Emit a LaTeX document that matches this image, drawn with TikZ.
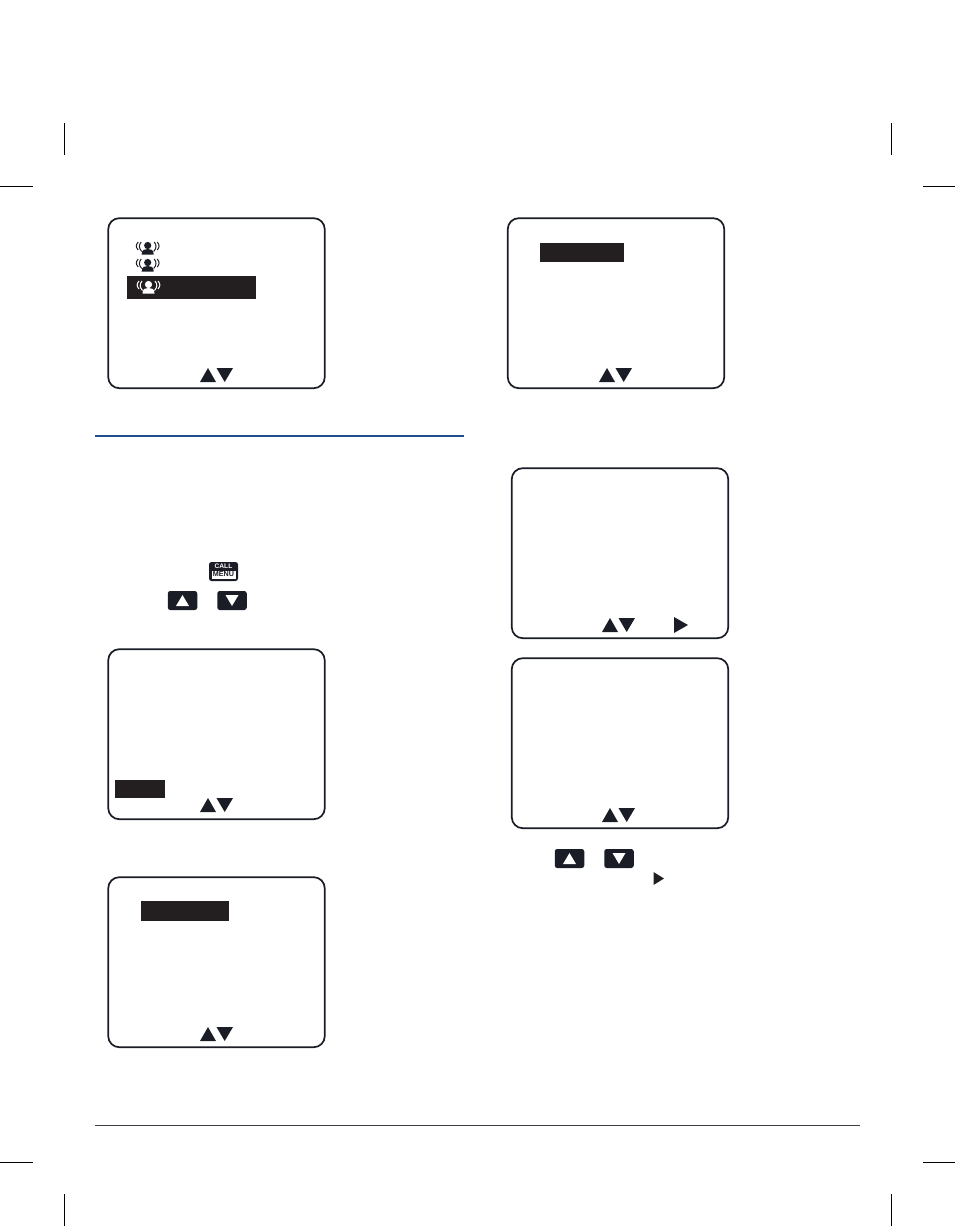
\documentclass[tikz,border=0pt]{standalone}
\usepackage{fontspec}
\setmainfont{Liberation Sans}
\definecolor{inkdark}{HTML}{1A1C26}
\definecolor{barblack}{HTML}{231F20}
\definecolor{ruleblue}{HTML}{1F4E8C}
\tikzset{
  screen/.style={draw=inkdark,line width=1.7pt,rounded corners=11pt,inner sep=0pt,
    minimum width=216.5pt,minimum height=170pt},
  hilite/.style={fill=barblack,inner sep=0pt,anchor=north west},
  keybtn/.style={fill=inkdark,rounded corners=2.5pt,inner sep=0pt,minimum width=29.5pt,minimum height=19pt},
  cropmark/.style={black,line width=.8pt},
  pics/arrowpair/.style={code={
    \fill[inkdark] (-16.5,7) -- (-.5,7) -- (-8.5,-7) -- cycle;
    \fill[inkdark] (0,-7) -- (16.5,-7) -- (8.2,7) -- cycle;
  }},
  pics/keyup/.style={code={\fill[white] (-6.5,5.5) -- (6.5,5.5) -- (0,-5.5) -- cycle;}},
  pics/keydown/.style={code={\fill[white] (-6.5,-5.5) -- (6.5,-5.5) -- (0,5.5) -- cycle;}},
  pics/caller/.style={code={
    \fill[#1] (0,-2.5) circle (3.6);
    \fill[#1] (-6,6.5) .. controls (-6,1.5) and (-3,1) .. (0,1) .. controls (3,1) and (6,1.5) .. (6,6.5) -- cycle;
    \foreach \s in {-1,1} {
      \draw[#1,line width=1pt] (\s*6.5,-6) .. controls (\s*9,-3) and (\s*9,0) .. (\s*6,3.5);
      \draw[#1,line width=1pt] (\s*9.5,-6) .. controls (\s*12,-3) and (\s*12,-1) .. (\s*9.5,2);
    }
  }},
}
\begin{document}
\begin{tikzpicture}[x=1pt,y=-1pt]
  \useasboundingbox (0,0) rectangle (955,1226);
  % crop marks
  \foreach \x in {64,891} {
    \draw[cropmark] (\x,123) -- (\x,155);
    \draw[cropmark] (\x,1194) -- (\x,1226);
  }
  \foreach \y in {186,1162} {
    \draw[cropmark] (0,\y) -- (33,\y);
    \draw[cropmark] (923,\y) -- (955,\y);
  }
  % rules
  \draw[ruleblue,line width=1.5pt] (95,436) -- (464,436);
  \draw[inkdark!85,line width=.7pt] (95,1125.5) -- (860,1125.5);
  % screens
  \foreach \name/\x/\y in {callscreen/216.5/303.2,ringscreen/616/303.2,menuscreen/216.5/734.2,
    listscreen/216.5/962.2,setscreen/620/553.2,optscreen/620/743.2} {
    \node[screen] (\name) at (\x,\y) {};
  }
  % highlighted rows
  \node[hilite,minimum width=129pt,minimum height=23pt] (callbar) at (127,276) {};
  \node[hilite,minimum width=84pt,minimum height=19pt] (ringbar) at (540,243) {};
  \node[hilite,minimum width=50pt,minimum height=18pt] (menubar) at (115,780) {};
  \node[hilite,minimum width=88pt,minimum height=20pt] (listbar) at (141,901) {};
  % caller icons
  \pic at (147.7,248) {caller=inkdark};
  \pic at (147.7,265) {caller=inkdark};
  \pic at (148.5,287) {caller=white};
  % scroll arrows
  \foreach \x/\y in {216.5/375,615.5/375,216.5/805,216.5/1034,618.5/625,618.5/815} {
    \pic at (\x,\y) {arrowpair};
  }
  \fill[inkdark] (674,617) -- (688,625) -- (674,633) -- cycle;
  \fill[barblack] (653.5,872) -- (664,878.5) -- (653.5,885) -- cycle;
  % keys
  \node[keybtn,minimum width=29pt] (callkey) at (223.5,571.5) {};
  \node[text=white,font=\fontsize{6.6}{7}\selectfont\bfseries,inner sep=0pt] (calltxt) at (223.5,566.5) {CALL};
  \node[fill=white,text=inkdark,font=\fontsize{7.2}{7}\selectfont\bfseries,inner sep=0pt,
    minimum width=24pt,minimum height=8pt] (menutxt) at (223.5,574.5) {MENU};
  \foreach \name/\x/\y/\kind in {upkeya/182.5/600.5/keyup,downkeya/232/600.5/keydown,
    upkeyb/569.5/858.5/keyup,downkeyb/619/858.5/keydown} {
    \node[keybtn] (\name) at (\x,\y) {};
    \pic at (\x,\y) {\kind};
  }
\end{tikzpicture}
\end{document}
